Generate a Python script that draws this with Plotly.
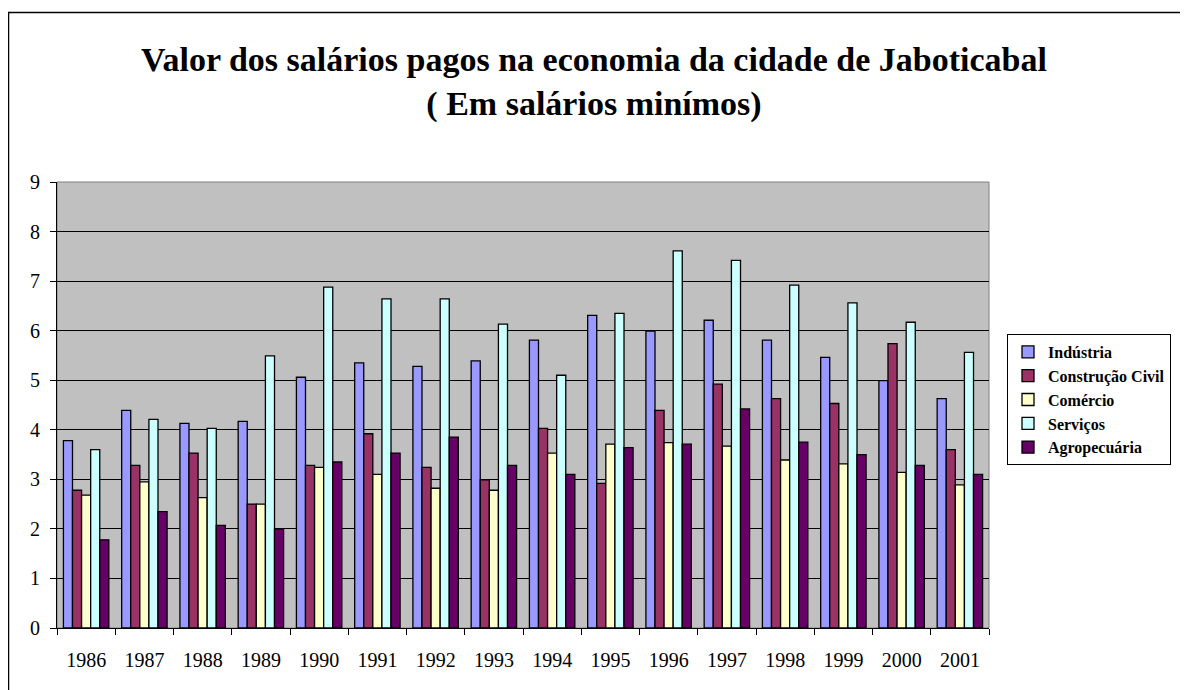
import plotly.graph_objects as go

anos = ["1986", "1987", "1988", "1989", "1990", "1991", "1992", "1993",
        "1994", "1995", "1996", "1997", "1998", "1999", "2000", "2001"]
industria = [3.78, 4.39, 4.13, 4.17, 5.06, 5.35, 5.28, 5.39, 5.81, 6.31, 5.99, 6.21, 5.81, 5.46, 4.99, 4.63]
construcao = [2.78, 3.28, 3.53, 2.50, 3.28, 3.92, 3.24, 2.99, 4.03, 2.92, 4.39, 4.92, 4.63, 4.53, 5.74, 3.60]
comercio = [2.68, 2.95, 2.63, 2.50, 3.24, 3.10, 2.82, 2.78, 3.53, 3.71, 3.74, 3.67, 3.39, 3.31, 3.14, 2.89]
servicos = [3.60, 4.21, 4.03, 5.49, 6.88, 6.64, 6.64, 6.13, 5.10, 6.35, 7.61, 7.42, 6.92, 6.56, 6.17, 5.56]
agropecuaria = [1.78, 2.35, 2.07, 2.00, 3.35, 3.53, 3.85, 3.28, 3.10, 3.64, 3.71, 4.42, 3.75, 3.50, 3.28, 3.10]

series = [
    ("Indústria", industria, "#9999FF"),
    ("Construção Civil", construcao, "#993366"),
    ("Comércio", comercio, "#FFFFCC"),
    ("Serviços", servicos, "#CCFFFF"),
    ("Agropecuária", agropecuaria, "#660066"),
]

SERIF = "Liberation Serif, Times New Roman, serif"

fig = go.Figure()
for i, (nome, vals, cor) in enumerate(series):
    fig.add_trace(go.Bar(
        x=anos, y=vals, name=nome, legendgroup=f"g{i}",
        marker=dict(color=cor, line=dict(color="black", width=1.3)),
    ))

# page offset of 8px (default body margin) is compensated here
OFF = 8
W, H = 1180, 682
L, T = 57 - OFF, 182 - OFF
pw, ph = 932, 446
R = W - L - pw
B = H - T - ph

def px_to_paper_x(px):
    return (px - OFF - L) / pw

def px_to_paper_y(py):
    return (T + ph - (py - OFF)) / ph

fig.update_layout(
    width=W, height=H,
    margin=dict(l=L, r=R, t=T, b=B),
    paper_bgcolor="white",
    plot_bgcolor="#C0C0C0",
    barmode="group",
    bargap=0.22,
    bargroupgap=0,
    font=dict(family=SERIF, size=20, color="black"),
    title=dict(
        text="<b>Valor dos salários pagos na economia da cidade de Jaboticabal<br>( Em salários minímos)</b>",
        x=(594 - OFF) / W, xref="container", xanchor="center",
        y=1 - (71 - OFF) / H, yref="container", yanchor="middle",
        font=dict(family=SERIF, size=34, color="black"),
    ),
    legend=dict(
        x=px_to_paper_x(1007), xanchor="left",
        y=px_to_paper_y(334), yanchor="top",
        bgcolor="white", bordercolor="black", borderwidth=1,
        font=dict(family=SERIF, size=16, color="black", weight="bold"),
        tracegroupgap=0,
        itemwidth=30,
    ),
    xaxis=dict(
        type="category",
        showgrid=False,
        showline=True, linecolor="black", linewidth=1,
        ticks="outside", tickson="boundaries", ticklen=6, tickcolor="black",
        tickfont=dict(family=SERIF, size=20),
        ticklabelstandoff=14,
    ),
    yaxis=dict(
        range=[0, 9], dtick=1,
        showgrid=True, gridcolor="black", gridwidth=1,
        showline=True, linecolor="black", linewidth=1,
        ticks="outside", ticklen=6, tickcolor="black",
        tickfont=dict(family=SERIF, size=20),
        ticklabelstandoff=6,
        zeroline=False,
    ),
    shapes=[
        dict(type="rect", xref="paper", yref="paper", x0=0, x1=1, y0=0, y1=1,
             line=dict(color="#808080", width=1), layer="below"),
        dict(type="rect", xref="paper", yref="paper",
             x0=px_to_paper_x(8.5), x1=px_to_paper_x(1200),
             y0=px_to_paper_y(700), y1=px_to_paper_y(12.5),
             line=dict(color="black", width=1.5)),
    ],
)

fig.write_html("out.html")
